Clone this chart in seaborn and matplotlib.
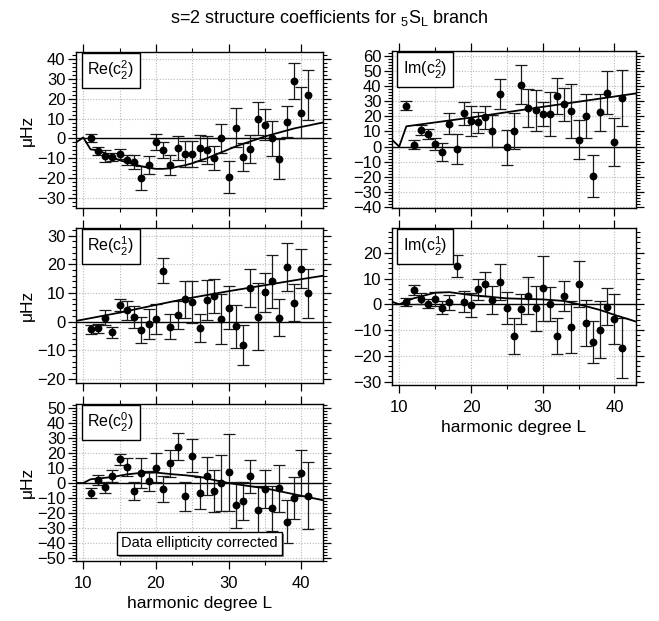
import matplotlib
matplotlib.use("Agg")
import matplotlib.pyplot as plt
import matplotlib.patheffects as pe
from matplotlib.ticker import MultipleLocator
import pandas as pd
import seaborn as sns

# ---------------------------------------------------------------- data
degree_L = [11, 12, 13, 14, 15, 16, 17, 18, 19, 20, 21, 22, 23, 24, 25, 26,
            27, 28, 29, 30, 31, 32, 33, 34, 35, 36, 37, 38, 39, 40, 41]

# Re(c_2^2)
re_c22 = [0, -6.5, -9, -9.5, -8, -11, -12, -20, -13.5, -2, -6, -13.5, -5, -8,
          -8, -5, -6, -10, 0, -19.5, 5.5, -9.5, -5.5, 10, 7, 0, -10.5, 8.5,
          29, 13, 22]
re_c22_err = [2, 2, 3, 2, 2.5, 2.5, 3.5, 6, 4.5, 4, 4, 5, 6, 6.5, 6.5, 6.5, 7,
              6, 7.5, 8, 10, 7, 7, 8.5, 8, 9, 10, 8, 9, 13, 12.5]
theory_L_re22 = [9, 10, 11, 12, 13, 14, 15, 16, 17, 18, 19, 20, 21, 22, 23,
                 24, 25, 26, 27, 28, 29, 30, 31, 32, 33, 34, 35, 36, 37, 38,
                 39, 40, 41, 42, 43]
theory_re22 = [-2, 0.5, -5.5, -6, -7.5, -9.5, -11, -12, -13, -14, -14.8,
               -15.3, -15.3, -15, -14.2, -13.5, -12.5, -11.2, -10, -8.5, -7,
               -5.5, -4, -2.7, -1.5, -0.3, 1, 2, 3, 4, 5, 5.8, 6.5, 7.3, 8]

# Im(c_2^2)
im_c22 = [27, 1.3, 11, 8.3, 1.8, -3.7, 15, -1.5, 22, 16.7, 16, 19.3, 10.5, 35,
          -0.4, 10.5, 41, 25.5, 24, 21.5, 21.5, 33.5, 28, 23.7, 4.6, 20.4,
          -19.7, 22.6, 35.8, 2.9, 32]
im_c22_err = [3, 3, 3.5, 3.3, 4, 6, 7, 10, 7.5, 10, 7, 7.7, 10.5, 10, 11.5, 12,
              13, 12.5, 13.5, 8, 14.5, 12, 11, 18, 13, 14.7, 14, 12, 14, 16,
              18.7]
theory_L_im22 = [9, 10, 11, 20, 30, 43]
theory_im22 = [4.5, 0, 13.4, 19.2, 26.3, 35.2]

# Re(c_2^1)
re_c21 = [-2.7, -2.3, 1.4, -3.8, 5.8, 4, 1.6, -2.9, -0.9, 0.8, 17.8, -1.8,
          2.3, 7.7, 6.8, -2.3, 7.4, 8.9, 0.8, 4.9, -1.7, -8.2, 11.6, 1.7, 10.2,
          14, 1.4, 19, 6.6, 18.5, 9.8]
re_c21_err = [1.6, 1.6, 2.5, 1.8, 2, 3.3, 4, 4.5, 5.2, 5.3, 4.3, 4.3, 4.8, 6.6,
              7.3, 5, 7, 5.8, 8.7, 7.6, 7.5, 7.1, 6.6, 11.6, 6.8, 9.4, 6.4,
              8.5, 6.4, 6.9, 8.7]
theory_L_re21 = [9, 15, 20, 24, 30, 35, 40, 43]
theory_re21 = [0.2, 3.1, 5.8, 7.9, 10.6, 12.7, 14.8, 16]

# Im(c_2^1)
im_c21 = [0.8, 5.6, 2.1, 0.3, 1.9, -1.3, 0.8, 15, 1, -0.3, 5.8, 7.9, 1.6, 8.7,
          -1.5, -12.3, -1.8, 3.4, -1.6, 6.2, 0, -12.3, 3.2, -8.8, 8, -7.2,
          -14.7, -9.8, -1, -5.6, -16.8]
im_c21_err = [1.5, 1.8, 2.1, 1.8, 2.7, 2.5, 3, 4.3, 4.1, 4.5, 4, 4.7, 5.4, 7.1,
              6.1, 6.8, 5.8, 7.2, 8.6, 12.7, 6.6, 7, 5.8, 10, 8.9, 8.9, 8.1,
              10.9, 7.2, 9.7, 11.6]
theory_L_im21 = [9, 10, 12, 15, 17, 20, 25, 30, 33, 35, 38, 40, 43]
theory_im21 = [1, 0, 2.3, 4.5, 4.7, 3.6, 2.3, 1.9, 1.3, 0, -2.2, -4.1, -6.7]

# Re(c_2^0)
re_c20 = [-6.9, 2, -2.9, 4.7, 15.8, 10.9, -5.1, 6.9, 1.3, 10.3, -4, 13.2,
          24.3, -8.9, 18.3, -6.5, 4.9, -5.4, 0, 7.1, -14.7, -12, 4.5, -18,
          -4.2, -17, -3.6, -25.9, -10.3, 6.9, -8.5]
re_c20_err = [3.3, 3.3, 3.9, 3.7, 3.7, 6, 6.1, 10, 6.7, 9.7, 8.4, 8.9, 8.9,
              9.8, 10.9, 10.8, 12.6, 14.3, 19, 26, 15.5, 12.7, 11.2, 16, 12.6,
              15, 15.8, 14.3, 14, 15.3, 22.3]
theory_L_re20 = [9, 10, 11, 12, 14, 16, 18, 20, 22, 24, 26, 28, 30, 32, 35,
                 38, 40, 43]
theory_re20 = [0, 0, 2.5, 3, 4, 5.8, 6.8, 7, 6, 5.2, 4.2, 2, 0, -1.5, -3.5,
               -6.5, -8.5, -11.5]

title = r"s=2 structure coefficients for ${}_{5}\mathrm{S}_{\mathrm{L}}$ branch"
xlabel = "harmonic degree L"
ylabel = "μHz"
note = "Data ellipticity corrected"

# ---------------------------------------------------------------- style
sns.set_theme(style="ticks", rc={
    "text.color": "black",
    "axes.labelcolor": "black",
    "xtick.color": "black",
    "ytick.color": "black",
    "axes.edgecolor": "black",
})
plt.rcParams["font.family"] = ["Liberation Sans", "DejaVu Sans"]
plt.rcParams["mathtext.fontset"] = "custom"
plt.rcParams["mathtext.rm"] = "Liberation Sans"
plt.rcParams["mathtext.it"] = "Liberation Sans:italic"
plt.rcParams["mathtext.bf"] = "Liberation Sans:bold"

W, H = 659, 621
fig = plt.figure(figsize=(W / 100, H / 100), dpi=100)
fig.patch.set_facecolor("white")


def px_axes(x0, y0, x1, y1):
    return fig.add_axes([x0 / W, 1 - y1 / H, (x1 - x0) / W, (y1 - y0) / H])


panels = [
    # label, values, errors, theory L, theory values, box (px), ylim, ylabel, xlabels
    (r"Re(c$_2^2$)", re_c22, re_c22_err, theory_L_re22, theory_re22,
     (76, 52, 323, 208), (-35, 43.5), True, False),
    (r"Im(c$_2^2$)", im_c22, im_c22_err, theory_L_im22, theory_im22,
     (392, 51, 636, 208), (-40.7, 63.3), False, False),
    (r"Re(c$_2^1$)", re_c21, re_c21_err, theory_L_re21, theory_re21,
     (76, 228, 323, 383), (-21.5, 32.7), True, False),
    (r"Im(c$_2^1$)", im_c21, im_c21_err, theory_L_im21, theory_im21,
     (392, 228, 636, 385), (-31.3, 29.6), False, True),
    (r"Re(c$_2^0$)", re_c20, re_c20_err, theory_L_re20, theory_re20,
     (76, 404, 323, 561), (-52.2, 52.9), True, True),
]

for label, vals, errs, tL, tv, box, ylim, show_ylabel, show_xlabels in panels:
    ax = px_axes(*box)
    ax.set_facecolor("white")
    df = pd.DataFrame({"L": degree_L, "value": vals, "err": errs})
    theory = pd.DataFrame({"L": tL, "value": tv})

    ax.axhline(0, color="black", lw=1.0, zorder=2)
    ax.errorbar(df["L"], df["value"], yerr=df["err"], fmt="none",
                ecolor="#1a1a1a", elinewidth=0.9, capsize=4.0, capthick=0.9,
                zorder=3)
    sns.lineplot(data=theory, x="L", y="value", ax=ax, color="black",
                 lw=1.3, estimator=None, sort=False, zorder=4)
    sns.scatterplot(data=df, x="L", y="value", ax=ax, color="black", s=32,
                    linewidth=0, zorder=5)

    ax.set_xlim(9, 43)
    ax.set_ylim(*ylim)
    ax.xaxis.set_major_locator(MultipleLocator(10))
    ax.xaxis.set_minor_locator(MultipleLocator(5))
    ax.yaxis.set_major_locator(MultipleLocator(10))
    ax.yaxis.set_minor_locator(MultipleLocator(2))
    ax.grid(which="both", axis="x", ls=(0, (1, 1.5)), color="#b8b8b8", lw=0.8)
    ax.grid(which="major", axis="y", ls=(0, (1, 1.5)), color="#b8b8b8", lw=0.8)
    ax.set_axisbelow(True)

    ax.tick_params(which="both", direction="out", top=True, right=True,
                   color="black", labelcolor="black", labelsize=12, pad=2)
    ax.tick_params(which="major", length=5.5, width=0.9)
    ax.tick_params(which="minor", length=2.8, width=0.8)
    ax.tick_params(axis="x", labelbottom=show_xlabels, pad=5)
    for s in ax.spines.values():
        s.set_color("black")
        s.set_linewidth(1.0)

    ax.set_xlabel(xlabel if show_xlabels else "", fontsize=12.5, labelpad=4)
    ax.set_ylabel(ylabel if show_ylabel else "", fontsize=12.5, labelpad=2)

    ax.text(0.045, 0.955, label, transform=ax.transAxes, ha="left", va="top",
            fontsize=11.5, zorder=6,
            bbox=dict(boxstyle="square,pad=0.35", fc="white", ec="black",
                      lw=1.0))

    if label == r"Re(c$_2^0$)":
        t = ax.text(0.5, 0.112, note, transform=ax.transAxes, ha="center",
                    va="center", fontsize=10.5, zorder=6,
                    bbox=dict(boxstyle="square,pad=0.3", fc="white",
                              ec="black", lw=1.0))
        t.get_bbox_patch().set_path_effects([
            pe.SimplePatchShadow(offset=(1.5, -1.5), shadow_rgbFace="#888888",
                                 alpha=1.0),
            pe.Normal()])

fig.text(0.5, 1 - 18 / H, title, ha="center", va="center", fontsize=13)

fig.savefig("out.png", dpi=100, facecolor="white")
